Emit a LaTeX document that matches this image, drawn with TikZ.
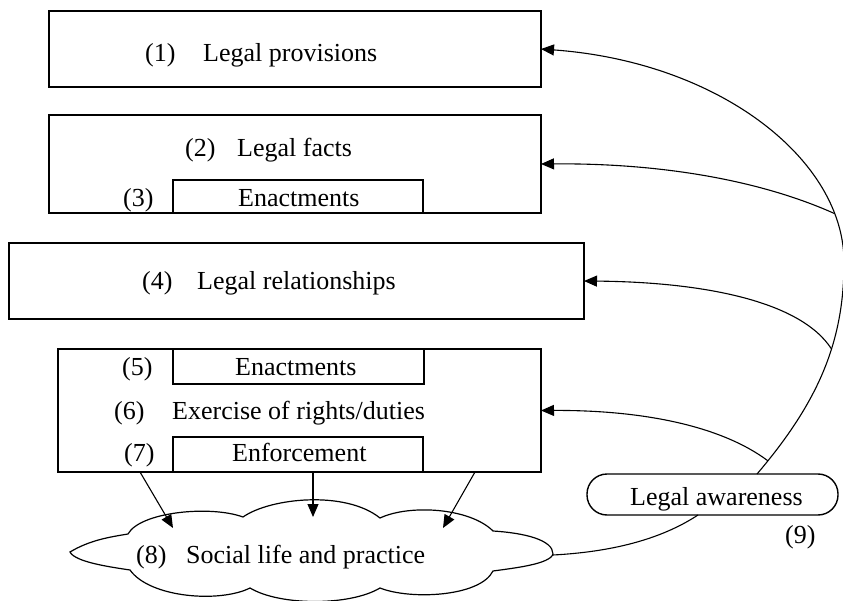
\documentclass[tikz,border=0pt]{standalone}
\usepackage{fontspec}
\setmainfont{Liberation Serif}
\usetikzlibrary{arrows.meta}
\begin{document}
\begin{tikzpicture}[x=1pt,y=-1pt,
  box/.style={draw, line width=1.4pt, inner sep=0pt, outer sep=0pt},
  lbl/.style={anchor=base west, inner sep=0pt, font=\fontsize{26}{30}\selectfont},
  arr/.style={line width=1.1pt, -{Triangle[length=13pt,width=11pt]}},
  link/.style={line width=1.1pt}]
\useasboundingbox (0,0) rectangle (843,601);
% boxes
\node[box, minimum width=492pt, minimum height=76pt] (b1) at (295,49) {};
\node[box, minimum width=492pt, minimum height=98pt] (b2) at (295,164) {};
\node[box, minimum width=250pt, minimum height=33pt] (b3) at (298,196.5) {};
\node[box, minimum width=575pt, minimum height=76pt] (b4) at (296.5,281) {};
\node[box, minimum width=483pt, minimum height=123pt] (b567) at (299.5,410.5) {};
\node[box, minimum width=251pt, minimum height=35pt] (b5) at (298.5,366.5) {};
\node[box, minimum width=250pt, minimum height=35pt] (b7) at (298,454.5) {};
\node[box, minimum width=251pt, minimum height=41pt, rounded corners=20pt] (la) at (712.5,494.5) {};
% cloud
\draw[line width=1.2pt, fill=white] (70,552) .. controls (90,540) and (110,537) .. (128,534)
  .. controls (140,512) and (210,505) .. (243,517)
  .. controls (270,498) and (345,490) .. (380,518)
  .. controls (410,504) and (470,508) .. (493,531)
  .. controls (525,533) and (553,540) .. (553,554)
  .. controls (550,564) and (515,568) .. (493,571)
  .. controls (480,597) and (410,600) .. (380,588)
  .. controls (350,606) and (280,606) .. (250,588)
  .. controls (220,603) and (150,598) .. (130,570)
  .. controls (110,567) and (75,562) .. (70,552) -- cycle;
\coordinate (cr) at (553,555);
\coordinate (t1) at (173,528);
\coordinate (t2) at (313,517);
\coordinate (t3) at (443,528);
% texts
\node[lbl] (n1) at (145,62) {(1)};
\node[lbl] (x1) at (203,62) {Legal provisions};
\node[lbl] (n2) at (185,157) {(2)};
\node[lbl] (x2) at (237,157) {Legal facts};
\node[lbl] (n3) at (123,207) {(3)};
\node[lbl] (x3) at (238,207) {Enactments};
\node[lbl] (n4) at (142,290) {(4)};
\node[lbl] (x4) at (197,290) {Legal relationships};
\node[lbl] (n5) at (122,376) {(5)};
\node[lbl] (x5) at (235,376) {Enactments};
\node[lbl] (n6) at (114,419) {(6)};
\node[lbl] (x6) at (172,419) {Exercise of rights/duties};
\node[lbl] (n7) at (124,461) {(7)};
\node[lbl] (x7) at (232,461) {Enforcement};
\node[lbl] (n8) at (136,563) {(8)};
\node[lbl] (x8) at (186,563) {Social life and practice};
\node[lbl] (x9) at (630,505) {Legal awareness};
\node[lbl] (n9) at (785,543) {(9)};
% arrows into the cloud
\draw[arr] ([xshift=-159.5pt]b567.south) -- (t1);
\draw[arr] ([xshift=15pt]b7.south) -- (t2);
\draw[arr] ([xshift=175.5pt]b567.south) -- (t3);
% legal awareness curves
\draw[arr] ([xshift=44.5pt]la.north) .. controls (820,400) and (844,340) .. (844,262)
   coordinate[pos=0.06] (j6) coordinate[pos=0.6] (j4)
   .. controls (844,160) and (720,62) .. (b1.east) coordinate[pos=0.16] (j2);
\draw[arr] (j2) .. controls (760,180) and (660,163) .. (b2.east);
\draw[arr] (j4) .. controls (800,300) and (700,282) .. (b4.east);
\draw[arr] (j6) .. controls (720,425) and (640,410) .. (b567.east);
\draw[link] (cr) .. controls (610,552) and (660,540) .. ([xshift=-14.5pt]la.south);
\end{tikzpicture}
\end{document}
